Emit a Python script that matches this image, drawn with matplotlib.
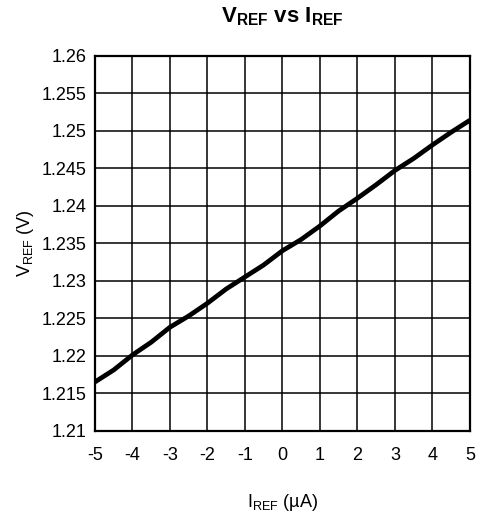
import matplotlib.pyplot as plt
import numpy as np

plt.rcParams['font.family'] = ['Liberation Sans', 'DejaVu Sans']
plt.rcParams['mathtext.fontset'] = 'custom'
plt.rcParams['mathtext.rm'] = 'Liberation Sans'
plt.rcParams['mathtext.it'] = 'Liberation Sans'
plt.rcParams['mathtext.bf'] = 'Liberation Sans:bold'

# I_REF (uA) vs V_REF (V)
i_ref = [-5, -4.5, -4, -3.5, -3, -2.5, -2, -1.5, -1, -0.5, 0, 0.5, 1, 1.5, 2, 2.5, 3, 3.5, 4, 4.5, 5]
v_ref = [1.2165, 1.2181, 1.2201, 1.2218, 1.2238, 1.2253, 1.2270, 1.2289, 1.2305, 1.2321, 1.2340,
         1.2355, 1.2373, 1.2393, 1.2410, 1.2428, 1.2447, 1.2463, 1.2481, 1.2498, 1.2514]

x_ticks = [-5, -4, -3, -2, -1, 0, 1, 2, 3, 4, 5]
y_ticks = [1.21, 1.215, 1.22, 1.225, 1.23, 1.235, 1.24, 1.245, 1.25, 1.255, 1.26]
y_labels = ['1.21', '1.215', '1.22', '1.225', '1.23', '1.235', '1.24', '1.245', '1.25', '1.255', '1.26']

fig = plt.figure(figsize=(4.87, 5.18), dpi=100)
ax = fig.add_axes([0.195, 0.1685, 0.77, 0.724])

ax.plot(i_ref, v_ref, color='black', lw=3.4, solid_capstyle='butt')

ax.set_xlim(-5, 5)
ax.set_ylim(1.21, 1.26)
ax.set_xticks(x_ticks)
ax.set_xticklabels([str(t) for t in x_ticks])
ax.set_yticks(y_ticks)
ax.set_yticklabels(y_labels)
ax.tick_params(length=0, labelsize=13)
ax.tick_params(axis='x', pad=12)
ax.tick_params(axis='y', pad=6)
ax.grid(True, color='black', lw=1.1)
ax.set_axisbelow(True)
for s in ax.spines.values():
    s.set_linewidth(1.6)

ax.set_title(r'$\mathbf{V_{REF}\ vs\ I_{REF}}$', fontsize=16, pad=24)
ax.set_xlabel(r'$\mathrm{I_{REF}}$ (µA)', fontsize=13, labelpad=20)
ax.set_ylabel(r'$\mathrm{V_{REF}}$ (V)', fontsize=13, labelpad=4)

plt.savefig('out.png', dpi=100)
plt.close()
